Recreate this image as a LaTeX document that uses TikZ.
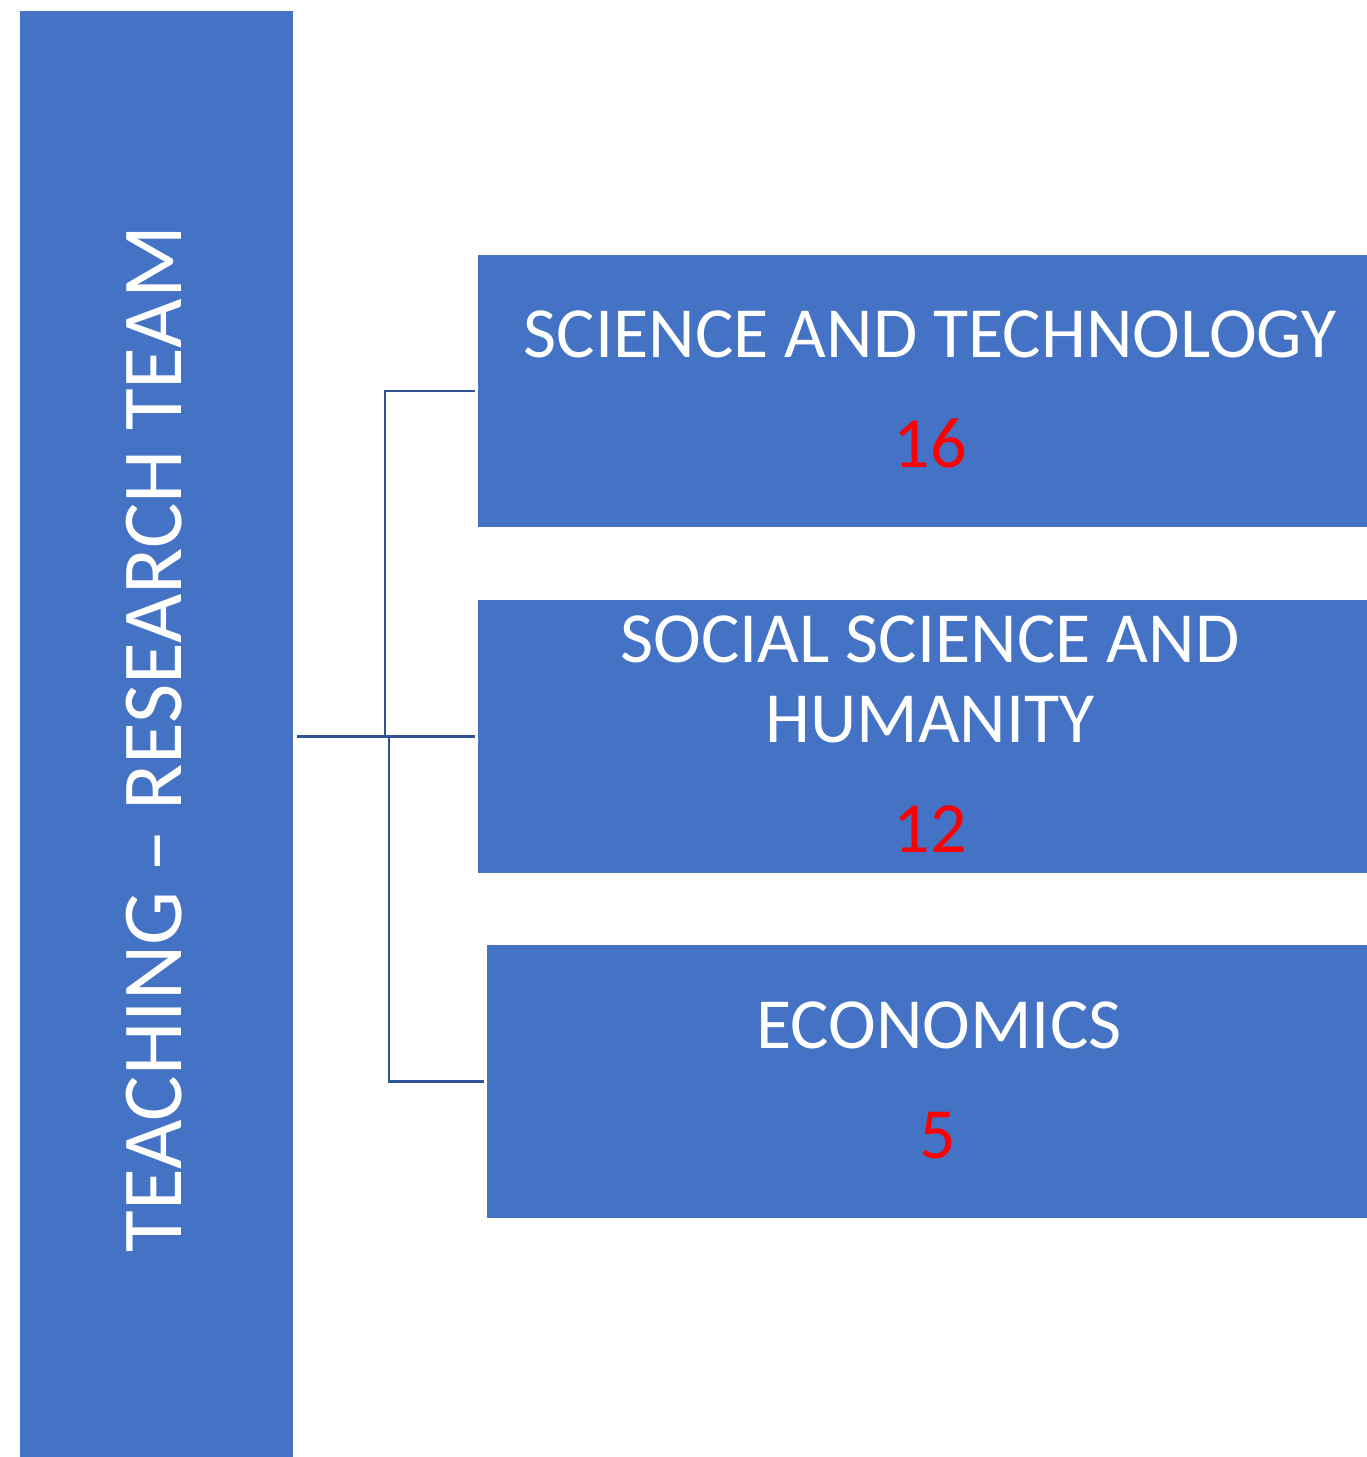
\documentclass[tikz,border=0pt]{standalone}
\usepackage{fontspec}
\setmainfont{Carlito}
\definecolor{boxblue}{HTML}{4472C4}
\definecolor{lineblue}{HTML}{2F5597}
\definecolor{numred}{HTML}{FF0000}
\begin{document}
\begin{tikzpicture}[x=1pt,y=-1pt,
  box/.style={fill=boxblue,draw=none,inner sep=0pt,outer sep=0pt,anchor=north west},
  title/.style={text=white,font=\fontsize{72}{80}\selectfont,anchor=base,inner sep=0pt},
  num/.style={text=numred,font=\fontsize{72}{80}\selectfont,anchor=base,inner sep=0pt},
  conn/.style={draw=lineblue,line width=2.5pt}]
\useasboundingbox (0,0) rectangle (1367,1457);
% left box
\node[box,minimum width=273,minimum height=1446] (team) at (20,11) {};
\node[text=white,font=\fontsize{85.4}{90}\selectfont,rotate=90,anchor=base,inner sep=0pt] (teamtxt) at (181,739) {TEACHING – RESEARCH TEAM};
% right boxes
\node[box,minimum width=889,minimum height=272] (b1) at (478,255) {};
\node[box,minimum width=889,minimum height=273] (b2) at (478,600) {};
\node[box,minimum width=880,minimum height=273] (b3) at (487,945) {};
% texts
\node[title] (t1) at (930,357) {SCIENCE AND TECHNOLOGY};
\node[num] (n1) at (930,467) {16};
\node[title] (t2a) at (930,662) {SOCIAL SCIENCE AND};
\node[title] (t2b) at (930,742) {HUMANITY};
\node[num] (n2) at (930,852) {12};
\node[title] (t3) at (939,1048) {ECONOMICS};
\node[num] (n3) at (938,1158) {5};
% connectors
\coordinate (j1) at (385,737);
\coordinate (j2) at (389,737);
\draw[conn,shorten <=4pt,shorten >=3pt] (team.east |- b2.west) -- (b2.west);
\draw[conn,shorten <=3pt] (b1.west) -| (j1);
\draw[conn,shorten <=3pt] (b3.west) -| (j2);
\end{tikzpicture}
\end{document}
